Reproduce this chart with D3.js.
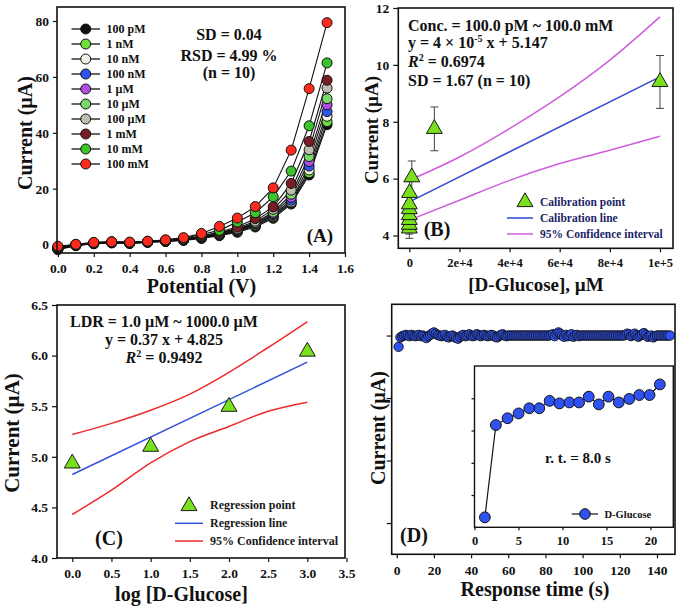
<!DOCTYPE html>
<html><head><meta charset="utf-8">
<script src="https://cdn.jsdelivr.net/npm/d3@7"></script>
<style>
html,body{margin:0;padding:0;background:#fff;}
text{font-family:"Liberation Serif","Times New Roman",serif;font-weight:bold;}
</style></head>
<body>
<svg id="chart" width="685" height="609"></svg>
<script>
// ---------- DATA ----------
// Panel A
const potentials = [0.0,0.1,0.2,0.3,0.4,0.5,0.6,0.7,0.8,0.9,1.0,1.1,1.2,1.3,1.4,1.5];
const seriesNames = ["100 pM","1 nM","10 nM","100 nM","1 \u00b5M","10 \u00b5M","100 \u00b5M","1 mM","10 mM","100 mM"];
const seriesColors = ["#111111","#6fe03a","#eef3e6","#2e55f0","#b04ee0","#7ad86a","#bdbdb0","#7a1c24","#3cc22a","#ff2a1e"];
const s100pM = [-1.8,-0.4,0.3,0.6,0.4,0.8,1.1,1.5,2.2,3.2,4.4,6.3,9.4,14.5,24.9,42.9];
const s1nM   = [-1.6,-0.3,0.4,0.7,0.5,0.9,1.2,1.6,2.4,3.4,4.7,6.7,9.9,15.0,25.7,44.0];
const s10nM  = [-1.5,-0.3,0.4,0.7,0.5,0.9,1.2,1.7,2.5,3.5,4.9,7.0,10.3,15.3,26.7,45.9];
const s100nM = [-1.4,-0.2,0.5,0.8,0.6,1.0,1.3,1.7,2.6,3.7,5.1,7.3,10.7,15.9,28.1,47.6];
const s1uM   = [-1.3,-0.2,0.5,0.8,0.6,1.0,1.3,1.8,2.7,3.8,5.3,7.6,11.1,16.9,29.7,50.0];
const s10uM  = [-1.2,-0.1,0.5,0.8,0.6,1.0,1.4,1.8,2.8,4.0,5.5,7.9,11.6,18.0,31.5,52.2];
const s100uM = [-1.1,-0.1,0.6,0.9,0.7,1.1,1.4,1.9,2.9,4.2,5.8,8.4,12.6,19.5,33.9,56.0];
const s1mM   = [-1.0,0.0,0.6,0.9,0.7,1.1,1.5,2.0,3.1,4.5,6.3,9.3,13.5,21.9,36.9,58.8];
const s10mM  = [-0.8,0.0,0.7,1.0,0.8,1.2,1.6,2.2,3.6,5.1,8.1,11.4,17.1,26.3,42.5,65.0];
const s100mM = [-0.6,0.1,0.8,1.0,0.9,1.2,1.7,2.5,4.0,6.5,9.5,13.6,20.3,33.8,55.8,79.4];
const seriesA = [s100pM,s1nM,s10nM,s100nM,s1uM,s10uM,s100uM,s1mM,s10mM,s100mM];
const ticksAx = [0,0.2,0.4,0.6,0.8,1.0,1.2,1.4,1.6];
const ticksAy = [0,20,40,60,80];

// Panel B
const concB = [0.0001,0.001,0.01,0.1,1,10,100,1000,10000,100000];
const currB = [4.25,4.38,4.55,4.72,4.93,5.10,5.50,6.05,7.75,9.40];
const errB  = [0.35,0.33,0.30,0.30,0.30,0.30,0.40,0.57,0.77,0.93];
const calLineX = [0,100000];
const calLineY = [5.18,9.58];
const ciX = [0,20000,40000,60000,80000,100000];
const ciUpperB = [5.94,6.76,7.76,8.88,10.17,11.69];
const ciLowerB = [4.54,5.24,5.94,6.53,7.00,7.49];
const ticksBx = [0,20000,40000,60000,80000,100000];
const ticksBy = [4,6,8,10,12];

// Panel C
const logC = [0,1,2,3];
const currC = [4.935,5.10,5.495,6.04];
const regX = [0,3];
const regY = [4.825,5.935];
const ciXC = [0,0.5,1.0,1.5,2.0,2.5,3.0];
const ciUpperC = [5.22,5.33,5.46,5.62,5.835,6.08,6.335];
const ciLowerC = [4.43,4.67,4.94,5.15,5.30,5.45,5.54];
const ticksCx = [0,0.5,1.0,1.5,2.0,2.5,3.0,3.5];
const ticksCy = [4.0,4.5,5.0,5.5,6.0,6.5];

// Panel D (main, 1 s sampling starting at t = 1 s)
const currD = [3.82,
 3.97,3.99,4.00,4.01,4.00,3.99,4.01,4.00,3.99,
 4.00,4.01,3.99,4.00,3.98,3.96,3.99,4.01,4.03,4.05,
 4.03,4.01,4.00,3.99,4.00,4.01,3.98,3.97,3.99,4.00,
 3.98,3.96,3.95,3.98,4.00,4.01,3.99,4.00,4.02,4.00,
 3.99,4.00,4.02,4.01,3.99,4.00,4.01,4.00,3.99,4.00,
 4.01,4.00,3.98,3.97,3.99,4.01,4.02,4.00,3.99,4.00,
 4.00,4.00,4.00,4.00,4.00,4.00,4.00,4.00,4.00,4.00,
 4.00,4.00,4.00,4.00,4.00,4.00,4.00,4.00,4.00,4.00,
 4.00,4.00,4.01,4.02,3.99,4.03,4.05,4.03,4.00,3.98,
 4.01,3.99,4.00,4.02,3.98,4.00,4.01,3.99,4.00,4.00,
 4.00,4.00,4.00,4.00,4.00,4.00,4.00,4.00,4.00,4.00,
 4.00,4.00,4.00,4.00,4.00,4.00,4.00,4.00,4.00,4.00,
 4.00,4.00,4.01,4.03,4.02,3.99,4.01,4.03,4.00,3.98,
 4.00,4.02,4.04,4.01,3.98,3.99,4.00,3.97,3.99,4.00,
 4.00,4.00,4.00,4.00,4.00,4.00,4.00];
const ticksDx = [0,20,40,60,80,100,120,140];
const ticksDy = [1,2,3,4];
// Panel D inset
const timeI = [1.18,2.43,3.76,5.01,6.23,7.37,8.54,9.65,10.79,11.89,12.99,14.13,15.23,16.40,17.59,18.73,19.90,21.07];
const currI = [0.31,3.17,3.38,3.53,3.69,3.69,3.92,3.84,3.87,3.87,4.05,3.81,4.05,3.87,3.98,4.10,4.10,4.43];
const ticksIx = [0,5,10,15,20];
const ticksIy = [1,2,3,4];

// ---------- DRAWING ----------
const svg = d3.select("#chart");
svg.append("rect").attr("width",685).attr("height",609).attr("fill","#fff");

function frame(x0,x1,y0,y1){
  svg.append("rect").attr("x",x0).attr("y",y0).attr("width",x1-x0).attr("height",y1-y0)
    .attr("fill","none").attr("stroke","#111").attr("stroke-width",1.6);
}
function styleAxis(g,fs){
  g.attr("font-family",null);
  g.select(".domain").remove();
  g.selectAll(".tick line").attr("stroke","#111").attr("stroke-width",1.2);
  g.selectAll(".tick text").attr("font-size",fs).attr("fill","#111")
   .style("font-family","'Liberation Serif',serif").style("font-weight","bold");
}
function yTitle(x,y,txt,fs){
  svg.append("text").attr("transform",`translate(${x},${y}) rotate(-90)`)
    .attr("text-anchor","middle").attr("dominant-baseline","central")
    .attr("font-size",fs).attr("fill","#111").text(txt);
}
function xTitle(x,y,txt,fs){
  svg.append("text").attr("x",x).attr("y",y).attr("text-anchor","middle")
    .attr("font-size",fs).attr("fill","#111").text(txt);
}
function label(x,y,txt,fs,anchor,color){
  return svg.append("text").attr("x",x).attr("y",y).attr("text-anchor",anchor||"start")
    .attr("font-size",fs).attr("fill",color||"#111").text(txt);
}
const tri = d3.symbol().type(d3.symbolTriangle).size(110);

// ===== Panel A =====
const xA = d3.scaleLinear().domain([-0.005,1.6]).range([57,345]);
const yA = d3.scaleLinear().domain([-3,85]).range([253,7]);
styleAxis(svg.append("g").attr("transform","translate(57,0)")
  .call(d3.axisLeft(yA).tickValues(ticksAy).tickSize(4).tickPadding(4)),13.5);
styleAxis(svg.append("g").attr("transform","translate(0,253)")
  .call(d3.axisBottom(xA).tickValues(ticksAx).tickSize(4).tickPadding(6).tickFormat(d3.format(".1f"))),13.5);
const lineA = d3.line().x((d,i)=>xA(potentials[i])).y(d=>yA(d));
seriesA.forEach((s,k)=>{
  svg.append("path").attr("d",lineA(s)).attr("fill","none").attr("stroke","#111").attr("stroke-width",1.1);
});
seriesA.forEach((s,k)=>{
  svg.append("g").selectAll("circle").data(s).join("circle")
    .attr("cx",(d,i)=>xA(potentials[i])).attr("cy",d=>yA(d)).attr("r",5)
    .attr("fill",seriesColors[k]).attr("stroke","#111").attr("stroke-width",1);
});
frame(57,345,7,253);
// legend A
seriesNames.forEach((n,k)=>{
  const y = 29 + k*15.0;
  svg.append("line").attr("x1",71.5).attr("x2",100).attr("y1",y).attr("y2",y).attr("stroke","#111").attr("stroke-width",1.3);
  svg.append("circle").attr("cx",85.7).attr("cy",y).attr("r",5).attr("fill",seriesColors[k]).attr("stroke","#111");
  label(106.5,y+4,n,12);
});
label(229,39.5,"SD = 0.04",16,"middle");
label(229,61,"RSD = 4.99 %",16,"middle");
label(229,78,"(n = 10)",16,"middle");
label(320,242,"(A)",19,"middle");
yTitle(25,133,"Current (\u00b5A)",20);
xTitle(201.5,293,"Potential (V)",20);

// ===== Panel B =====
const xB = d3.scaleLinear().domain([-4390,105200]).range([398.3,673]);
const yB = d3.scaleLinear().domain([3.55,12]).range([248.3,8]);
styleAxis(svg.append("g").attr("transform","translate(398.3,0)")
  .call(d3.axisLeft(yB).tickValues(ticksBy).tickSize(5).tickPadding(4)),13.5);
styleAxis(svg.append("g").attr("transform","translate(0,248.3)")
  .call(d3.axisBottom(xB).tickValues(ticksBx).tickSize(4).tickPadding(6)
    .tickFormat(d=> d===0 ? "0" : d3.format(".0e")(d))),12.5);
const lineB = d3.line().x((d,i)=>xB(d[0])).y(d=>yB(d[1])).curve(d3.curveMonotoneX);
svg.append("path").attr("d",lineB(ciX.map((x,i)=>[x,ciUpperB[i]]))).attr("fill","none").attr("stroke","#cf5ddc").attr("stroke-width",1.5);
svg.append("path").attr("d",lineB(ciX.map((x,i)=>[x,ciLowerB[i]]))).attr("fill","none").attr("stroke","#cf5ddc").attr("stroke-width",1.5);
svg.append("path").attr("d",lineB(calLineX.map((x,i)=>[x,calLineY[i]]))).attr("fill","none").attr("stroke","#3348d0").attr("stroke-width",1.5);
// error bars
const eb = svg.append("g").attr("stroke","#444").attr("stroke-width",1);
concB.forEach((c,i)=>{
  const x = xB(c);
  eb.append("line").attr("x1",x).attr("x2",x).attr("y1",yB(currB[i]-errB[i])).attr("y2",yB(currB[i]+errB[i]));
  eb.append("line").attr("x1",x-4).attr("x2",x+4).attr("y1",yB(currB[i]-errB[i])).attr("y2",yB(currB[i]-errB[i]));
  eb.append("line").attr("x1",x-4).attr("x2",x+4).attr("y1",yB(currB[i]+errB[i])).attr("y2",yB(currB[i]+errB[i]));
});
svg.append("g").selectAll("path").data(concB).join("path")
  .attr("d",tri).attr("transform",(d,i)=>`translate(${xB(d)},${yB(currB[i])})`)
  .attr("fill","#78e01c").attr("stroke","#1a1a1a").attr("stroke-width",1);
frame(398.3,673,8,248.3);
// annotation B
label(408,31,"Conc. = 100.0 pM ~ 100.0 mM",16);
const tB = label(408,48,"y = 4 \u00d7 10",16);
tB.append("tspan").attr("dy",-6).attr("font-size",10).text("-5");
tB.append("tspan").attr("dy",6).text(" x + 5.147");
const rB = label(408,67,"",16);
rB.append("tspan").attr("font-style","italic").text("R");
rB.append("tspan").attr("dy",-6).attr("font-size",10).text("2");
rB.append("tspan").attr("dy",6).text(" = 0.6974");
label(408,86,"SD = 1.67 (n = 10)",16);
// legend B
svg.append("path").attr("d",tri).attr("transform","translate(525,202)").attr("fill","#78e01c").attr("stroke","#1a1a1a");
svg.append("line").attr("x1",507).attr("x2",533).attr("y1",218).attr("y2",218).attr("stroke","#3348d0").attr("stroke-width",1.5);
svg.append("line").attr("x1",507).attr("x2",533).attr("y1",234).attr("y2",234).attr("stroke","#cf5ddc").attr("stroke-width",1.5);
label(540,206,"Calibration point",11.5,"start","#1c1f66");
label(540,222,"Calibration line",11.5,"start","#1c1f66");
label(540,238,"95% Confidence interval",11.5,"start","#1c1f66");
label(437,236,"(B)",20,"middle");
yTitle(371.7,130,"Current (\u00b5A)",19);
xTitle(536,291,"[D-Glucose], \u00b5M",19);

// ===== Panel C =====
const xC = d3.scaleLinear().domain([-0.195,3.5]).range([57,346.5]);
const yC = d3.scaleLinear().domain([4,6.5]).range([558,305]);
styleAxis(svg.append("g").attr("transform","translate(57,0)")
  .call(d3.axisLeft(yC).tickValues(ticksCy).tickSize(5).tickPadding(4).tickFormat(d3.format(".1f"))),13.5);
styleAxis(svg.append("g").attr("transform","translate(0,558)")
  .call(d3.axisBottom(xC).tickValues(ticksCx).tickSize(4).tickPadding(6).tickFormat(d3.format(".1f"))),13.5);
const lineC = d3.line().x(d=>xC(d[0])).y(d=>yC(d[1])).curve(d3.curveMonotoneX);
svg.append("path").attr("d",lineC(ciXC.map((x,i)=>[x,ciUpperC[i]]))).attr("fill","none").attr("stroke","#ee2a2a").attr("stroke-width",1.5);
svg.append("path").attr("d",lineC(ciXC.map((x,i)=>[x,ciLowerC[i]]))).attr("fill","none").attr("stroke","#ee2a2a").attr("stroke-width",1.5);
svg.append("path").attr("d",lineC(regX.map((x,i)=>[x,regY[i]]))).attr("fill","none").attr("stroke","#3352d8").attr("stroke-width",1.5);
svg.append("g").selectAll("path").data(logC).join("path")
  .attr("d",tri).attr("transform",(d,i)=>`translate(${xC(d)},${yC(currC[i])})`)
  .attr("fill","#78e01c").attr("stroke","#1a1a1a").attr("stroke-width",1);
svg.append("rect").attr("x",57).attr("y",305).attr("width",288).attr("height",253).attr("fill","none").attr("stroke","#111").attr("stroke-width",1.6);
label(164,327,"LDR = 1.0 \u00b5M ~ 1000.0 \u00b5M",16,"middle");
label(164,345,"y = 0.37 x + 4.825",16,"middle");
const rC = label(164,363,"",16,"middle");
rC.append("tspan").attr("font-style","italic").text("R");
rC.append("tspan").attr("dy",-6).attr("font-size",10).text("2");
rC.append("tspan").attr("dy",6).text(" = 0.9492");
svg.append("path").attr("d",tri).attr("transform","translate(189,506)").attr("fill","#78e01c").attr("stroke","#1a1a1a");
svg.append("line").attr("x1",175).attr("x2",203).attr("y1",523.3).attr("y2",523.3).attr("stroke","#3352d8").attr("stroke-width",1.5);
svg.append("line").attr("x1",175).attr("x2",203).attr("y1",541).attr("y2",541).attr("stroke","#ee2a2a").attr("stroke-width",1.5);
label(210,509,"Regression point",12,"start","#1a1a1a");
label(210,527,"Regression line",12,"start","#1a1a1a");
label(210,545,"95% Confidence interval",12,"start","#1a1a1a");
label(109,545,"(C)",20,"middle");
yTitle(12,433,"Current (\u00b5A)",21);
xTitle(181.5,601,"log [D-Glucose]",20);

// ===== Panel D =====
const xD = d3.scaleLinear().domain([-2.7,149.7]).range([391.7,675]);
const yD = d3.scaleLinear().domain([0.5,4.5]).range([554.3,304.3]);
styleAxis(svg.append("g").attr("transform","translate(391.7,0)")
  .call(d3.axisLeft(yD).tickValues(ticksDy).tickSize(5).tickFormat("")),12);
styleAxis(svg.append("g").attr("transform","translate(0,554.3)")
  .call(d3.axisBottom(xD).tickValues(ticksDx).tickSize(4).tickPadding(7)),13.5);
const lineD = d3.line().x((d,i)=>xD(i+1)).y(d=>yD(d));
svg.append("path").attr("d",lineD(currD)).attr("fill","none").attr("stroke","#111").attr("stroke-width",1);
svg.append("g").selectAll("circle").data(currD).join("circle")
  .attr("cx",(d,i)=>xD(i+1)).attr("cy",d=>yD(d)).attr("r",4.7)
  .attr("fill","#2f52f0").attr("stroke","#111").attr("stroke-width",0.9);
frame(391.7,675,304.3,554.3);
// inset
const xI = d3.scaleLinear().domain([0,22.6]).range([474.5,673.3]);
const yI = d3.scaleLinear().domain([0,5]).range([527.3,366]);
svg.append("rect").attr("x",474.5).attr("y",366).attr("width",198.8).attr("height",161.3).attr("fill","#fff");
styleAxis(svg.append("g").attr("transform","translate(474.5,0)")
  .call(d3.axisLeft(yI).tickValues(ticksIy).tickSize(3).tickFormat("")),11);
styleAxis(svg.append("g").attr("transform","translate(0,527.3)")
  .call(d3.axisBottom(xI).tickValues(ticksIx).tickSize(3).tickPadding(6)),12.5);
const lineI = d3.line().x((d,i)=>xI(timeI[i])).y(d=>yI(d));
svg.append("path").attr("d",lineI(currI)).attr("fill","none").attr("stroke","#111").attr("stroke-width",1.2);
svg.append("g").selectAll("circle").data(currI).join("circle")
  .attr("cx",(d,i)=>xI(timeI[i])).attr("cy",d=>yI(d)).attr("r",5.4)
  .attr("fill","#2f52f0").attr("stroke","#111").attr("stroke-width",1);
svg.append("rect").attr("x",474.5).attr("y",366).attr("width",198.8).attr("height",161.3).attr("fill","none").attr("stroke","#111").attr("stroke-width",1.4);
label(578,463,"r. t. = 8.0 s",15,"middle");
svg.append("line").attr("x1",571.7).attr("x2",598).attr("y1",514).attr("y2",514).attr("stroke","#111").attr("stroke-width",1.2);
svg.append("circle").attr("cx",585).attr("cy",514).attr("r",5.3).attr("fill","#2f52f0").attr("stroke","#111");
label(604.5,517.5,"D-Glucose",10.5);
label(414,542,"(D)",20,"middle");
yTitle(378.3,428,"Current (\u00b5A)",20);
xTitle(535,596,"Response time (s)",20);
</script>
</body></html>
